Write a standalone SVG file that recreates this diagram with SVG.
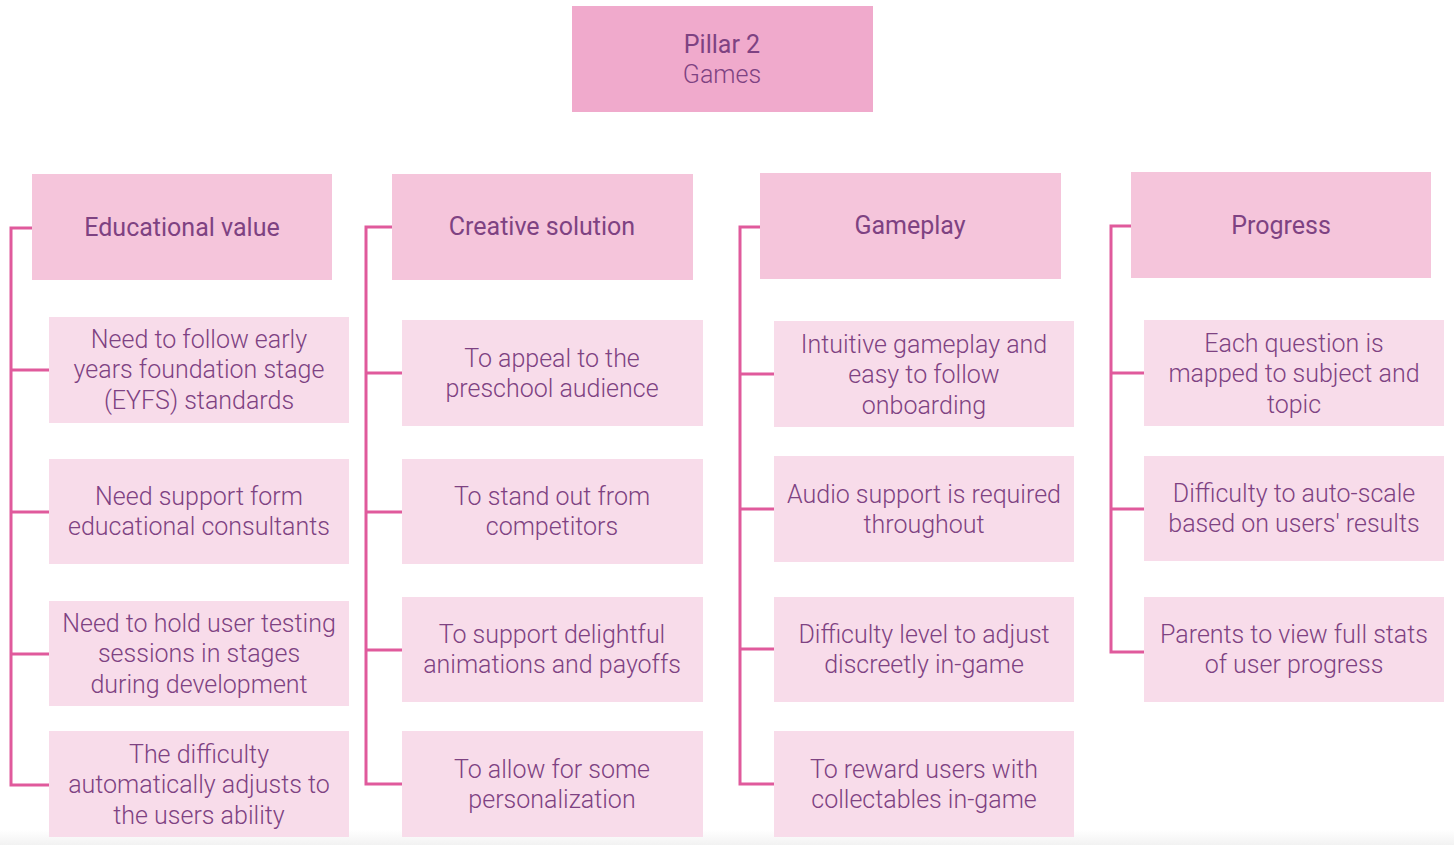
<svg xmlns="http://www.w3.org/2000/svg" width="1454" height="845" viewBox="0 0 1454 845">
<defs>
<linearGradient id="bot" x1="0" y1="0" x2="0" y2="1">
<stop offset="0" stop-color="#ffffff"/>
<stop offset="1" stop-color="#f2f2f2"/>
</linearGradient>
</defs>
<style>
.pillar{fill:#f0aacc}
.head{fill:#f5c5db}
.item{fill:#f8dcea}
text{font-family:Roboto,"Liberation Sans",sans-serif;fill:#7e4282;text-anchor:middle}
.ht{font-size:25px;font-weight:400}
.it{font-size:25px;font-weight:300}
.conn{fill:none;stroke:#e05a9c;stroke-width:3}
</style>
<rect x="0" y="0" width="1454" height="845" fill="#ffffff"/>
<rect x="0" y="830" width="1454" height="15" fill="url(#bot)"/>
<g id="connectors">
<path class="conn" d="M32,228 H11 V785 H49 M11,370 H49 M11,512 H49 M11,654 H49"/>
<path class="conn" d="M392,227 H366 V784 H402 M366,373 H402 M366,512 H402 M366,650 H402"/>
<path class="conn" d="M760,227 H740 V784 H774 M740,374 H774 M740,509 H774 M740,649 H774"/>
<path class="conn" d="M1131,226 H1111 V652 H1144 M1111,373 H1144 M1111,509 H1144"/>
</g>
<g id="pillar">
<rect class="pillar" x="572" y="6" width="301" height="106"/>
<text class="ht" x="722" y="53">Pillar 2</text>
<text class="it" x="722" y="83">Games</text>
</g>
<g id="h1"><rect class="head" x="32" y="174" width="300" height="106"/><text class="ht" x="182" y="236">Educational value</text></g>
<g id="h2"><rect class="head" x="392" y="174" width="301" height="106"/><text class="ht" x="542" y="235">Creative solution</text></g>
<g id="h3"><rect class="head" x="760" y="173" width="301" height="106"/><text class="ht" x="910" y="234">Gameplay</text></g>
<g id="h4"><rect class="head" x="1131" y="172" width="300" height="106"/><text class="ht" x="1281" y="234">Progress</text></g>

<g id="c1i1"><rect class="item" x="49" y="317" width="300" height="106"/><text class="it" x="199" y="348">Need to follow early</text><text class="it" x="199" y="378">years foundation stage</text><text class="it" x="199" y="409">(EYFS) standards</text></g>
<g id="c1i2"><rect class="item" x="49" y="459" width="300" height="105"/><text class="it" x="199" y="505">Need support form</text><text class="it" x="199" y="535">educational consultants</text></g>
<g id="c1i3"><rect class="item" x="49" y="601" width="300" height="105"/><text class="it" x="199" y="632">Need to hold user testing</text><text class="it" x="199" y="662">sessions in stages</text><text class="it" x="199" y="693">during development</text></g>
<g id="c1i4"><rect class="item" x="49" y="731" width="300" height="106"/><text class="it" x="199" y="763">The difficulty</text><text class="it" x="199" y="793">automatically adjusts to</text><text class="it" x="199" y="824">the users ability</text></g>

<g id="c2i1"><rect class="item" x="402" y="320" width="301" height="106"/><text class="it" x="552" y="367">To appeal to the</text><text class="it" x="552" y="397">preschool audience</text></g>
<g id="c2i2"><rect class="item" x="402" y="459" width="301" height="105"/><text class="it" x="552" y="505">To stand out from</text><text class="it" x="552" y="535">competitors</text></g>
<g id="c2i3"><rect class="item" x="402" y="597" width="301" height="105"/><text class="it" x="552" y="643">To support delightful</text><text class="it" x="552" y="673">animations and payoffs</text></g>
<g id="c2i4"><rect class="item" x="402" y="731" width="301" height="106"/><text class="it" x="552" y="778">To allow for some</text><text class="it" x="552" y="808">personalization</text></g>

<g id="c3i1"><rect class="item" x="774" y="321" width="300" height="106"/><text class="it" x="924" y="353">Intuitive gameplay and</text><text class="it" x="924" y="383">easy to follow</text><text class="it" x="924" y="414">onboarding</text></g>
<g id="c3i2"><rect class="item" x="774" y="456" width="300" height="106"/><text class="it" x="924" y="503">Audio support is required</text><text class="it" x="924" y="533">throughout</text></g>
<g id="c3i3"><rect class="item" x="774" y="597" width="300" height="105"/><text class="it" x="924" y="643">Difficulty level to adjust</text><text class="it" x="924" y="673">discreetly in-game</text></g>
<g id="c3i4"><rect class="item" x="774" y="731" width="300" height="106"/><text class="it" x="924" y="778">To reward users with</text><text class="it" x="924" y="808">collectables in-game</text></g>

<g id="c4i1"><rect class="item" x="1144" y="320" width="300" height="106"/><text class="it" x="1294" y="352">Each question is</text><text class="it" x="1294" y="382">mapped to subject and</text><text class="it" x="1294" y="413">topic</text></g>
<g id="c4i2"><rect class="item" x="1144" y="456" width="300" height="105"/><text class="it" x="1294" y="502">Difficulty to auto-scale</text><text class="it" x="1294" y="532">based on users' results</text></g>
<g id="c4i3"><rect class="item" x="1144" y="597" width="300" height="105"/><text class="it" x="1294" y="643">Parents to view full stats</text><text class="it" x="1294" y="673">of user progress</text></g>
</svg>
